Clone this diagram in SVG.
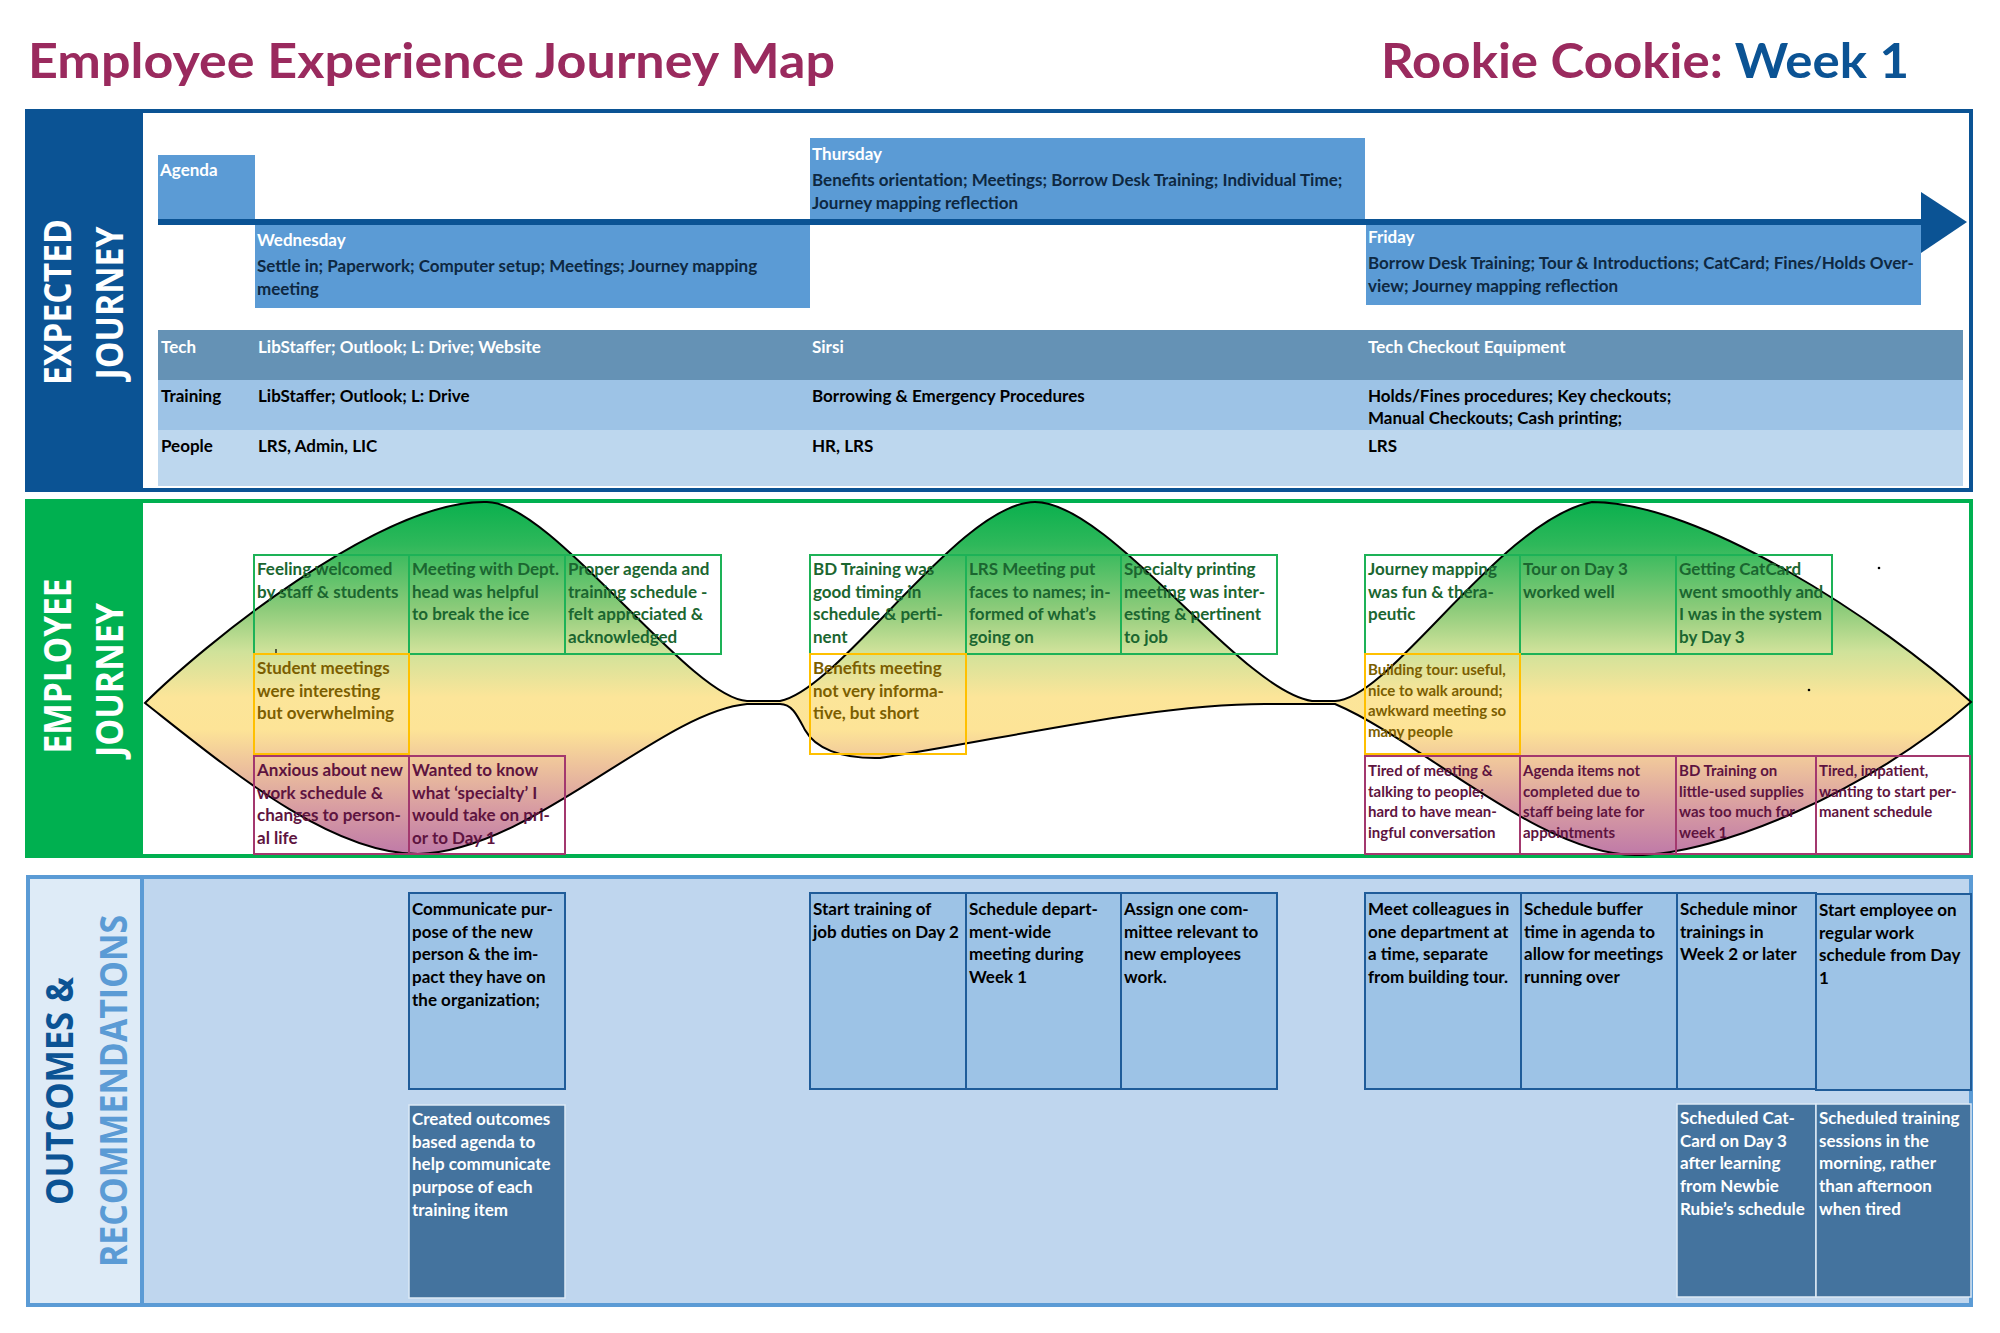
<svg xmlns="http://www.w3.org/2000/svg" width="2000" height="1333" viewBox="0 0 2000 1333">
<defs>
<style>
.t{font-family:Lato,'Open Sans','Liberation Sans',sans-serif;font-weight:700;font-size:17px}
.sm{font-size:15px}
.lbl{font-family:'Open Sans','DejaVu Sans',sans-serif;font-weight:700;font-size:37px}
.ttl{font-family:Lato,'Open Sans','Liberation Sans',sans-serif;font-weight:700;font-size:48px}
.wh{fill:#ffffff}.nv{fill:#0E2841}.bk{fill:#000000}
.gt{fill:#1B6630}.yt{fill:#7C5E00}.mt{fill:#5E1440}
.gb{fill:none;stroke:#1DB257;stroke-width:2}
.yb{fill:none;stroke:#FFC000;stroke-width:2}
.mb{fill:none;stroke:#A3386E;stroke-width:2}
.day{fill:#5B9BD5}
.ob{fill:#9DC3E6;stroke:#1F5C99;stroke-width:2}
.od{fill:#44739E;stroke:#DCE9F5;stroke-width:1.5}
</style>
<linearGradient id="mood" gradientUnits="userSpaceOnUse" x1="0" y1="502" x2="0" y2="857">
<stop offset="0" stop-color="#0AB04E"/>
<stop offset="0.12" stop-color="#2EB85A"/>
<stop offset="0.3" stop-color="#8CCB7A"/>
<stop offset="0.42" stop-color="#CFE29A"/>
<stop offset="0.55" stop-color="#FCE599"/>
<stop offset="0.64" stop-color="#FDE497"/>
<stop offset="0.74" stop-color="#EEC39C"/>
<stop offset="0.86" stop-color="#D89DA2"/>
<stop offset="1" stop-color="#BE78A8"/>
</linearGradient>
</defs>
<rect x="0" y="0" width="2000" height="1333" fill="#ffffff"/>

<g id="title">
<text class="ttl" x="28" y="78" fill="#9A2A5E" textLength="807" lengthAdjust="spacingAndGlyphs">Employee Experience Journey Map</text>
<text class="ttl" x="1381" y="78" textLength="528" lengthAdjust="spacingAndGlyphs"><tspan fill="#9A2A5E">Rookie Cookie: </tspan><tspan fill="#0B5394">Week 1</tspan></text>
</g>

<!-- EXPECTED JOURNEY -->
<g id="expected-section">
<rect x="27" y="111" width="1944" height="379" fill="#ffffff" stroke="#0B5394" stroke-width="4"/>
<rect x="27" y="111" width="116" height="379" fill="#0B5394"/>
<text class="lbl wh" transform="translate(71,302) rotate(-90)" text-anchor="middle" textLength="166" lengthAdjust="spacingAndGlyphs">EXPECTED</text>
<text class="lbl wh" transform="translate(123,303) rotate(-90)" text-anchor="middle" textLength="153" lengthAdjust="spacingAndGlyphs">JOURNEY</text>
</g>
<g id="agenda">
<rect class="day" x="158" y="155" width="97" height="64"/>
<text class="t wh" x="160" y="176">Agenda</text>
</g>
<g id="timeline">
<rect x="158" y="219" width="1764" height="6" fill="#0B5394"/>
<polygon points="1921,192 1967,222 1921,253" fill="#0B5394"/>
</g>
<g id="thursday">
<rect class="day" x="810" y="138" width="555" height="81"/>
<text class="t" x="812" y="160"><tspan class="wh" x="812">Thursday</tspan><tspan class="nv" x="812" dy="26">Benefits orientation; Meetings; Borrow Desk Training; Individual Time;</tspan><tspan class="nv" x="812" dy="23">Journey mapping reflection</tspan></text>
</g>
<g id="wednesday">
<rect class="day" x="255" y="225" width="555" height="83"/>
<text class="t" x="257" y="246"><tspan class="wh" x="257">Wednesday</tspan><tspan class="nv" x="257" dy="26">Settle in; Paperwork; Computer setup; Meetings; Journey mapping</tspan><tspan class="nv" x="257" dy="23">meeting</tspan></text>
</g>
<g id="friday">
<rect class="day" x="1366" y="225" width="555" height="80"/>
<text class="t" x="1368" y="243"><tspan class="wh" x="1368">Friday</tspan><tspan class="nv" x="1368" dy="26">Borrow Desk Training; Tour &amp; Introductions; CatCard; Fines/Holds Over-</tspan><tspan class="nv" x="1368" dy="23">view; Journey mapping reflection</tspan></text>
</g>
<g id="tech-row">
<rect x="158" y="330" width="1805" height="50" fill="#6592B5"/>
<text class="t wh" x="161" y="353">Tech</text>
<text class="t wh" x="258" y="353">LibStaffer; Outlook; L: Drive; Website</text>
<text class="t wh" x="812" y="353">Sirsi</text>
<text class="t wh" x="1368" y="353">Tech Checkout Equipment</text>
</g>
<g id="training-row">
<rect x="158" y="380" width="1805" height="50" fill="#9DC3E6"/>
<text class="t bk" x="161" y="402">Training</text>
<text class="t bk" x="258" y="402">LibStaffer; Outlook; L: Drive</text>
<text class="t bk" x="812" y="402">Borrowing &amp; Emergency Procedures</text>
<text class="t bk" x="1368" y="402"><tspan x="1368">Holds/Fines procedures; Key checkouts;</tspan><tspan x="1368" dy="22">Manual Checkouts; Cash printing;</tspan></text>
</g>
<g id="people-row">
<rect x="158" y="430" width="1805" height="56" fill="#BDD7EE"/>
<text class="t bk" x="161" y="452">People</text>
<text class="t bk" x="258" y="452">LRS, Admin, LIC</text>
<text class="t bk" x="812" y="452">HR, LRS</text>
<text class="t bk" x="1368" y="452">LRS</text>
</g>

<!-- EMPLOYEE JOURNEY -->
<g id="employee-section">
<rect x="27" y="501" width="1944" height="355" fill="#ffffff" stroke="#00B050" stroke-width="4"/>
<rect x="27" y="501" width="116" height="355" fill="#00B050"/>
<text class="lbl wh" transform="translate(71,666) rotate(-90)" text-anchor="middle" textLength="175" lengthAdjust="spacingAndGlyphs">EMPLOYEE</text>
<text class="lbl wh" transform="translate(123,680) rotate(-90)" text-anchor="middle" textLength="154" lengthAdjust="spacingAndGlyphs">JOURNEY</text>
</g>
<g id="mood-curve">
<path d="M145,703 C200,648 380,500 486,502 C550,500 690,699 747,701 L780,701 C840,690 960,502 1035,502 C1110,502 1240,690 1312,701 L1335,701 C1390,700 1500,520 1592,502 C1700,502 1880,620 1971,702 C1870,790 1720,855 1635,855 C1540,855 1420,740 1335,704 L1265,704 C1150,704 1000,740 880,758 C840,759 815,748 805,730 C797,715 792,704 780,704 L747,704 C660,712 530,852 418,854 C330,854 230,770 145,703 Z" fill="url(#mood)" stroke="#000000" stroke-width="2"/>
<line x1="276" y1="649" x2="276" y2="655" stroke="#000" stroke-width="1.2"/>
<circle cx="1879" cy="568" r="1.3" fill="#000"/>
<circle cx="1809" cy="690" r="1.3" fill="#000"/>
</g>

<g id="ej-feeling"><rect class="gb" x="254" y="555" width="155" height="99"/><text class="t gt" x="257" y="575"><tspan x="257">Feeling welcomed</tspan><tspan x="257" dy="22.7">by staff &amp; students</tspan></text></g>
<g id="ej-dept"><rect class="gb" x="409" y="555" width="156" height="99"/><text class="t gt" x="412" y="575"><tspan x="412">Meeting with Dept.</tspan><tspan x="412" dy="22.7">head was helpful</tspan><tspan x="412" dy="22.7">to break the ice</tspan></text></g>
<g id="ej-agenda"><rect class="gb" x="565" y="555" width="156" height="99"/><text class="t gt" x="568" y="575"><tspan x="568">Proper agenda and</tspan><tspan x="568" dy="22.7">training schedule -</tspan><tspan x="568" dy="22.7">felt appreciated &amp;</tspan><tspan x="568" dy="22.7">acknowledged</tspan></text></g>
<g id="ej-student"><rect class="yb" x="254" y="654" width="155" height="100"/><text class="t yt" x="257" y="674"><tspan x="257">Student meetings</tspan><tspan x="257" dy="22.7">were interesting</tspan><tspan x="257" dy="22.7">but overwhelming</tspan></text></g>
<g id="ej-anxious"><rect class="mb" x="254" y="756" width="155" height="98"/><text class="t mt" x="257" y="776"><tspan x="257">Anxious about new</tspan><tspan x="257" dy="22.7">work schedule &amp;</tspan><tspan x="257" dy="22.7">changes to person-</tspan><tspan x="257" dy="22.7">al life</tspan></text></g>
<g id="ej-specialty-q"><rect class="mb" x="409" y="756" width="156" height="98"/><text class="t mt" x="412" y="776"><tspan x="412">Wanted to know</tspan><tspan x="412" dy="22.7">what ‘specialty’ I</tspan><tspan x="412" dy="22.7">would take on pri-</tspan><tspan x="412" dy="22.7">or to Day 1</tspan></text></g>

<g id="ej-bd"><rect class="gb" x="810" y="555" width="156" height="99"/><text class="t gt" x="813" y="575"><tspan x="813">BD Training was</tspan><tspan x="813" dy="22.7">good timing in</tspan><tspan x="813" dy="22.7">schedule &amp; perti-</tspan><tspan x="813" dy="22.7">nent</tspan></text></g>
<g id="ej-lrs"><rect class="gb" x="966" y="555" width="155" height="99"/><text class="t gt" x="969" y="575"><tspan x="969">LRS Meeting put</tspan><tspan x="969" dy="22.7">faces to names; in-</tspan><tspan x="969" dy="22.7">formed of what’s</tspan><tspan x="969" dy="22.7">going on</tspan></text></g>
<g id="ej-printing"><rect class="gb" x="1121" y="555" width="156" height="99"/><text class="t gt" x="1124" y="575"><tspan x="1124">Specialty printing</tspan><tspan x="1124" dy="22.7">meeting was inter-</tspan><tspan x="1124" dy="22.7">esting &amp; pertinent</tspan><tspan x="1124" dy="22.7">to job</tspan></text></g>
<g id="ej-benefits"><rect class="yb" x="810" y="654" width="156" height="100"/><text class="t yt" x="813" y="674"><tspan x="813">Benefits meeting</tspan><tspan x="813" dy="22.7">not very informa-</tspan><tspan x="813" dy="22.7">tive, but short</tspan></text></g>

<g id="ej-mapping"><rect class="gb" x="1365" y="555" width="155" height="99"/><text class="t gt" x="1368" y="575"><tspan x="1368">Journey mapping</tspan><tspan x="1368" dy="22.7">was fun &amp; thera-</tspan><tspan x="1368" dy="22.7">peutic</tspan></text></g>
<g id="ej-tour"><rect class="gb" x="1520" y="555" width="156" height="99"/><text class="t gt" x="1523" y="575"><tspan x="1523">Tour on Day 3</tspan><tspan x="1523" dy="22.7">worked well</tspan></text></g>
<g id="ej-catcard"><rect class="gb" x="1676" y="555" width="156" height="99"/><text class="t gt" x="1679" y="575"><tspan x="1679">Getting CatCard</tspan><tspan x="1679" dy="22.7">went smoothly and</tspan><tspan x="1679" dy="22.7">I was in the system</tspan><tspan x="1679" dy="22.7">by Day 3</tspan></text></g>
<g id="ej-building"><rect class="yb" x="1365" y="654" width="155" height="100"/><text class="t sm yt" x="1368" y="675"><tspan x="1368">Building tour: useful,</tspan><tspan x="1368" dy="20.7">nice to walk around;</tspan><tspan x="1368" dy="20.7">awkward meeting so</tspan><tspan x="1368" dy="20.7">many people</tspan></text></g>
<g id="ej-tired"><rect class="mb" x="1365" y="756" width="155" height="98"/><text class="t sm mt" x="1368" y="776"><tspan x="1368">Tired of meeting &amp;</tspan><tspan x="1368" dy="20.7">talking to people;</tspan><tspan x="1368" dy="20.7">hard to have mean-</tspan><tspan x="1368" dy="20.7">ingful conversation</tspan></text></g>
<g id="ej-late"><rect class="mb" x="1520" y="756" width="156" height="98"/><text class="t sm mt" x="1523" y="776"><tspan x="1523">Agenda items not</tspan><tspan x="1523" dy="20.7">completed due to</tspan><tspan x="1523" dy="20.7">staff being late for</tspan><tspan x="1523" dy="20.7">appointments</tspan></text></g>
<g id="ej-supplies"><rect class="mb" x="1676" y="756" width="140" height="98"/><text class="t sm mt" x="1679" y="776"><tspan x="1679">BD Training on</tspan><tspan x="1679" dy="20.7">little-used supplies</tspan><tspan x="1679" dy="20.7">was too much for</tspan><tspan x="1679" dy="20.7">week 1</tspan></text></g>
<g id="ej-impatient"><rect class="mb" x="1816" y="756" width="154" height="98"/><text class="t sm mt" x="1819" y="776"><tspan x="1819">Tired, impatient,</tspan><tspan x="1819" dy="20.7">wanting to start per-</tspan><tspan x="1819" dy="20.7">manent schedule</tspan></text></g>

<!-- OUTCOMES -->
<g id="outcomes-section">
<rect x="142" y="877" width="1829" height="428" fill="#BFD6EE" stroke="#5B9BD5" stroke-width="4"/>
<rect x="28" y="877" width="114" height="428" fill="#DEEBF7" stroke="#5B9BD5" stroke-width="4"/>
<text class="lbl" fill="#0B5394" transform="translate(73,1091) rotate(-90)" text-anchor="middle" textLength="228" lengthAdjust="spacingAndGlyphs">OUTCOMES &amp;</text>
<text class="lbl" fill="#5B9BD5" transform="translate(127,1091) rotate(-90)" text-anchor="middle" textLength="352" lengthAdjust="spacingAndGlyphs">RECOMMENDATIONS</text>
</g>
<g id="oc-communicate"><rect class="ob" x="409" y="893" width="156" height="196"/><text class="t bk" x="412" y="915"><tspan x="412">Communicate pur-</tspan><tspan x="412" dy="22.7">pose of the new</tspan><tspan x="412" dy="22.7">person &amp; the im-</tspan><tspan x="412" dy="22.7">pact they have on</tspan><tspan x="412" dy="22.7">the organization;</tspan></text></g>
<g id="oc-created"><rect class="od" x="409" y="1105" width="156" height="193"/><text class="t wh" x="412" y="1125"><tspan x="412">Created outcomes</tspan><tspan x="412" dy="22.7">based agenda to</tspan><tspan x="412" dy="22.7">help communicate</tspan><tspan x="412" dy="22.7">purpose of each</tspan><tspan x="412" dy="22.7">training item</tspan></text></g>
<g id="oc-day2"><rect class="ob" x="810" y="893" width="156" height="196"/><text class="t bk" x="813" y="915"><tspan x="813">Start training of</tspan><tspan x="813" dy="22.7">job duties on Day 2</tspan></text></g>
<g id="oc-deptwide"><rect class="ob" x="966" y="893" width="155" height="196"/><text class="t bk" x="969" y="915"><tspan x="969">Schedule depart-</tspan><tspan x="969" dy="22.7">ment-wide</tspan><tspan x="969" dy="22.7">meeting during</tspan><tspan x="969" dy="22.7">Week 1</tspan></text></g>
<g id="oc-committee"><rect class="ob" x="1121" y="893" width="156" height="196"/><text class="t bk" x="1124" y="915"><tspan x="1124">Assign one com-</tspan><tspan x="1124" dy="22.7">mittee relevant to</tspan><tspan x="1124" dy="22.7">new employees</tspan><tspan x="1124" dy="22.7">work.</tspan></text></g>
<g id="oc-colleagues"><rect class="ob" x="1365" y="893" width="156" height="196"/><text class="t bk" x="1368" y="915"><tspan x="1368">Meet colleagues in</tspan><tspan x="1368" dy="22.7">one department at</tspan><tspan x="1368" dy="22.7">a time, separate</tspan><tspan x="1368" dy="22.7">from building tour.</tspan></text></g>
<g id="oc-buffer"><rect class="ob" x="1521" y="893" width="156" height="196"/><text class="t bk" x="1524" y="915"><tspan x="1524">Schedule buffer</tspan><tspan x="1524" dy="22.7">time in agenda to</tspan><tspan x="1524" dy="22.7">allow for meetings</tspan><tspan x="1524" dy="22.7">running over</tspan></text></g>
<g id="oc-minor"><rect class="ob" x="1677" y="893" width="139" height="196"/><text class="t bk" x="1680" y="915"><tspan x="1680">Schedule minor</tspan><tspan x="1680" dy="22.7">trainings in</tspan><tspan x="1680" dy="22.7">Week 2 or later</tspan></text></g>
<g id="oc-regular"><rect class="ob" x="1816" y="894" width="155" height="196"/><text class="t bk" x="1819" y="916"><tspan x="1819">Start employee on</tspan><tspan x="1819" dy="22.7">regular work</tspan><tspan x="1819" dy="22.7">schedule from Day</tspan><tspan x="1819" dy="22.7">1</tspan></text></g>
<g id="oc-catcard"><rect class="od" x="1677" y="1104" width="139" height="193"/><text class="t wh" x="1680" y="1124"><tspan x="1680">Scheduled Cat-</tspan><tspan x="1680" dy="22.7">Card on Day 3</tspan><tspan x="1680" dy="22.7">after learning</tspan><tspan x="1680" dy="22.7">from Newbie</tspan><tspan x="1680" dy="22.7">Rubie’s schedule</tspan></text></g>
<g id="oc-morning"><rect class="od" x="1816" y="1104" width="155" height="193"/><text class="t wh" x="1819" y="1124"><tspan x="1819">Scheduled training</tspan><tspan x="1819" dy="22.7">sessions in the</tspan><tspan x="1819" dy="22.7">morning, rather</tspan><tspan x="1819" dy="22.7">than afternoon</tspan><tspan x="1819" dy="22.7">when tired</tspan></text></g>
</svg>
